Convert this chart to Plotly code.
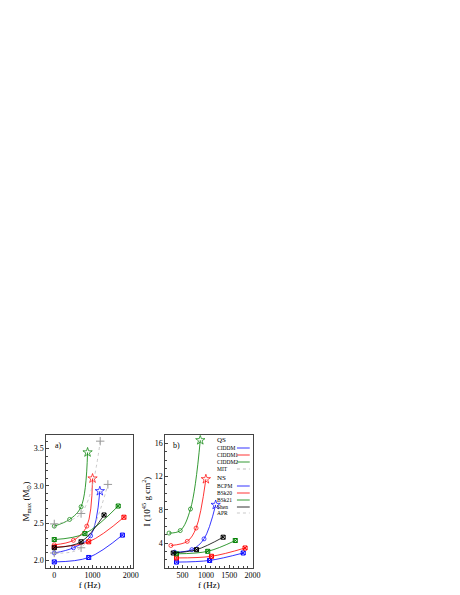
import plotly.graph_objects as go

# Panel a) Mmax vs f
qs_names = ["CIDDM", "CIDDM1", "CIDDM2"]
qs_colors = ["blue", "red", "green"]
a_qs_f = [[0, 500, 950, 1190], [0, 500, 850, 1000], [0, 400, 700, 870]]
a_qs_m = [[2.10, 2.17, 2.33, 2.93], [2.21, 2.27, 2.46, 3.10], [2.46, 2.55, 2.72, 3.45]]
a_mit_f = [[0, 700, 1200], [0, 700, 1400]]
a_mit_m = [[2.49, 2.63, 3.60], [2.10, 2.17, 3.02]]
ns_names = ["BCPM", "BSk20", "BSk21", "Shen"]
ns_colors = ["blue", "red", "green", "black"]
a_ns_f = [[0, 900, 1780], [0, 900, 1820], [0, 800, 1670], [0, 700, 1300]]
a_ns_m = [[1.98, 2.04, 2.34], [2.18, 2.25, 2.58], [2.28, 2.36, 2.73], [2.17, 2.25, 2.61]]

# Panel b) I vs f
b_qs_f = [[330, 700, 960, 1210], [250, 600, 790, 1000], [210, 450, 670, 880]]
b_qs_i = [[2.9, 3.2, 4.5, 8.6], [3.7, 4.2, 5.8, 11.7], [5.2, 5.5, 8.1, 16.4]]
b_ns_f = [[370, 1080, 1800], [370, 1120, 1840], [370, 1040, 1630], [300, 800, 1370]]
b_ns_i = [[1.7, 1.9, 2.8], [2.2, 2.4, 3.4], [2.7, 3.0, 4.3], [2.8, 3.2, 4.7]]

MS = 4
fig = go.Figure()
def qs_sym(n):
    return ["circle-open"] * (n - 1) + ["star-open"]

for k, (xa, ya) in enumerate([("x", "y"), ("x2", "y2")]):
    F = a_qs_f if k == 0 else b_qs_f
    V = a_qs_m if k == 0 else b_qs_i
    for i in range(3):
        sz = [MS] * (len(F[i]) - 1) + [7]
        fig.add_trace(go.Scatter(x=F[i], y=V[i], mode="lines+markers", line_shape="spline",
            line=dict(color=qs_colors[i], width=0.8), marker=dict(symbol=qs_sym(len(F[i])), size=sz, color=qs_colors[i]),
            showlegend=False, xaxis=xa, yaxis=ya))
    if k == 0:
        for j in range(2):
            fig.add_trace(go.Scatter(x=a_mit_f[j], y=a_mit_m[j], mode="lines+markers", line_shape="spline",
                line=dict(color="#bbbbbb", width=0.8, dash="dot"), marker=dict(symbol="cross-thin-open", size=6, color="#999"),
                showlegend=False, xaxis=xa, yaxis=ya))
    F = a_ns_f if k == 0 else b_ns_f
    V = a_ns_m if k == 0 else b_ns_i
    for i in range(4):
        fig.add_trace(go.Scatter(x=F[i], y=V[i], mode="lines+markers", line_shape="spline",
            line=dict(color=ns_colors[i], width=0.8), marker=dict(symbol="square-x-open", size=MS, color=ns_colors[i]),
            showlegend=False, xaxis=xa, yaxis=ya))

# legend drawn as text + sample lines inside panel b
leg_rows = [("QS", None, None, 7), ("CIDDM", "blue", "solid", 5.5), ("CIDDM1", "red", "solid", 5.5),
            ("CIDDM2", "green", "solid", 5.5), ("MIT", "#aaaaaa", "dot", 5.5),
            ("NS", None, None, 7), ("BCPM", "blue", "solid", 5.5), ("BSk20", "red", "solid", 5.5),
            ("BSk21", "green", "solid", 5.5), ("Shen", "black", "solid", 5.5), ("APR", "#bbbbbb", "dot", 5.5)]
leg_y = [432, 440, 447, 454, 461, 470, 478, 485, 492, 499, 505]
annotations = [dict(text="a)", x=0.10, y=0.275, xref="paper", yref="paper", showarrow=False, xanchor="left", yanchor="top", font=dict(size=8)),
               dict(text="b)", x=0.36, y=0.275, xref="paper", yref="paper", showarrow=False, xanchor="left", yanchor="top", font=dict(size=8))]
shapes = []
for (txt, col, dash, fs), py in zip(leg_rows, leg_y):
    yp = 1 - py / 595
    annotations.append(dict(text=txt, x=211 / 460, y=yp, xref="paper", yref="paper", showarrow=False,
                            xanchor="left", yanchor="middle", font=dict(size=fs)))
    if col:
        shapes.append(dict(type="line", xref="paper", yref="paper", x0=233 / 460, x1=246 / 460, y0=yp, y1=yp,
                           line=dict(color=col, width=0.8, dash=dash)))

ax = dict(showline=True, mirror=True, linecolor="#444", linewidth=1, ticks="inside", ticklen=3, tickcolor="#444",
          showgrid=False, zeroline=False, tickfont=dict(size=8, color="black"), title_font=dict(size=9, color="black"),
          title_standoff=2, minor=dict(ticks="inside", ticklen=1.5, tickcolor="#444"))
fig.update_layout(
    width=460, height=595, paper_bgcolor="white", plot_bgcolor="white",
    margin=dict(l=0, r=0, t=0, b=0), showlegend=False,
    font=dict(family="Liberation Serif", color="black"),
    xaxis=dict(ax, domain=[0.085, 0.276], range=[-205, 2050], tickvals=[0, 1000, 2000], title_text="f (Hz)"),
    yaxis=dict(ax, domain=[0.059, 0.282], range=[1.9, 3.68], tickvals=[2.0, 2.5, 3.0, 3.5], tickformat=".1f",
               title_text="M<sub>max</sub> (M<sub>⊙</sub>)"),
    xaxis2=dict(ax, domain=[0.348, 0.541], range=[130, 2000], tickvals=[500, 1000, 1500, 2000], title_text="f (Hz)", anchor="y2"),
    yaxis2=dict(ax, domain=[0.059, 0.282], range=[1, 17], tickvals=[4, 8, 12, 16],
                title_text="I (10<sup>45</sup> g cm<sup>2</sup>)", anchor="x2"),
    annotations=annotations, shapes=shapes,
)
fig.write_html("out.html")
